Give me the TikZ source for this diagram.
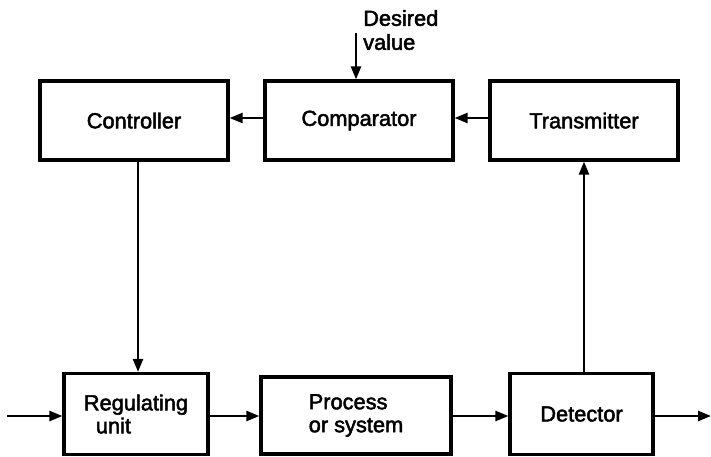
\documentclass[tikz,border=0pt]{standalone}
\usepackage{fontspec}
\setmainfont{Liberation Sans}
\newfontfamily\diagfont{Liberation Sans}[FakeBold=2.2]
\usetikzlibrary{arrows.meta}
\begin{document}
\begin{tikzpicture}[x=1pt,y=-1pt,
  box/.style={draw=black, line width=3.2pt, fill=white, inner sep=0pt, font=\diagfont\fontsize{21.8}{23}\selectfont},
  conn/.style={line width=2.4pt, -{Triangle[length=13pt,width=10pt]}},
  lbl/.style={inner sep=0pt, font=\diagfont\fontsize{21.8}{24}\selectfont}]
\useasboundingbox (0,0) rectangle (711,456);
% top row
\node[box, minimum width=188pt, minimum height=79pt] (ctrl) at (134,120.5) {Controller};
\node[box, minimum width=188pt, minimum height=79pt] (comp) at (359,120.5) {Comparator};
\node[box, minimum width=188pt, minimum height=79pt] (trans) at (584,120.5) {Transmitter};
% bottom row
\node[box, minimum width=144pt, minimum height=81pt, align=left] (reg) at (136,414) {Regulating\\\hspace*{12pt}unit};
\node[box, minimum width=190pt, minimum height=77pt, align=left] (proc) at (356,415.5) {Process\\or system};
\node[box, minimum width=143pt, minimum height=81pt] (det) at (581.5,414) {Detector};
% desired value
\node[lbl, align=left, anchor=west] (dv) at (363,30) {Desired\\value};
\coordinate (dvs) at (356,33);
\coordinate (inp) at (7,416);
\coordinate (outp) at (711,416);
% connectors
\draw[conn] (dvs) -- (dvs |- comp.north);
\draw[conn] (comp.west |- 0,118) -- (ctrl.east |- 0,118);
\draw[conn] (trans.west |- 0,118) -- (comp.east |- 0,118);
\draw[conn] (ctrl.south -| 138,0) -- (reg.north -| 138,0);
\draw[conn] (det.north -| 584,0) -- (trans.south -| 584,0);
\draw[conn] (inp) -- (reg.west |- inp);
\draw[conn] (reg.east |- inp) -- (proc.west |- inp);
\draw[conn] (proc.east |- inp) -- (det.west |- inp);
\draw[conn] (det.east |- inp) -- (outp);
\end{tikzpicture}
\end{document}
